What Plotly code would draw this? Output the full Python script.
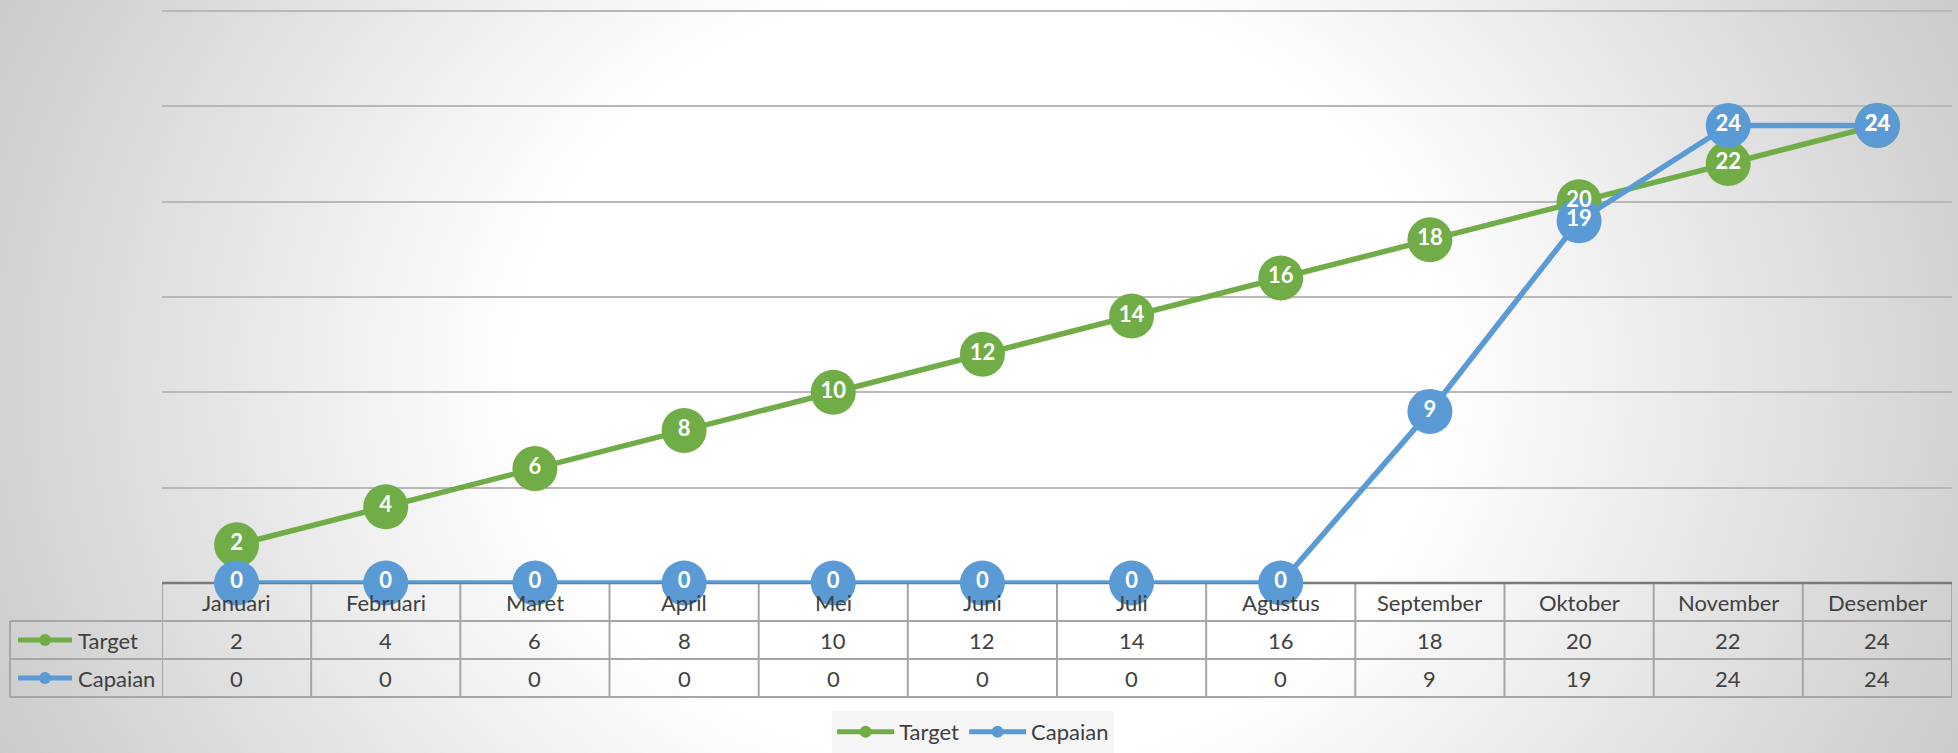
import base64
import plotly.graph_objects as go

months = ["Januari", "Februari", "Maret", "April", "Mei", "Juni", "Juli",
          "Agustus", "September", "Oktober", "November", "Desember"]
target = [2, 4, 6, 8, 10, 12, 14, 16, 18, 20, 22, 24]
capaian = [0, 0, 0, 0, 0, 0, 0, 0, 9, 19, 24, 24]
series_names = ["Target", "Capaian"]
series_colors = ["#70AD47", "#5B9BD5"]

W, H = 1958, 753
FONT = "Lato"
TXT = "#404040"
TBL = "#a6a6a6"
FS = 22

# layout geometry (pixels)
px_l, px_r = 162, 1952
py_axis, py_top = 583, 11
rows_y = [583, 621, 659, 697]
tbl_left = 10
y_max_grid = 30
y_range_top = 30.5
unit_px = (py_axis - py_top) / y_max_grid
py_domain_top = py_axis - y_range_top * unit_px

def fx(p):
    return p / W

def fy(p):
    return 1 - p / H

svg = f'''<svg xmlns="http://www.w3.org/2000/svg" width="{W}" height="{H}" viewBox="0 0 {W} {H}" preserveAspectRatio="none">
<defs><radialGradient id="g" cx="0.5" cy="0.5" r="0.56" gradientUnits="objectBoundingBox">
<stop offset="0" stop-color="#ffffff"/><stop offset="0.42" stop-color="#ffffff"/>
<stop offset="1" stop-color="#c9c9c9"/></radialGradient></defs>
<rect x="0" y="{-0.6 * H}" width="{W}" height="{2.2 * H}" fill="url(#g)"/></svg>'''
svg_uri = "data:image/svg+xml;base64," + base64.b64encode(svg.encode()).decode()

fig = go.Figure()
all_vals = [target, capaian]
for name, vals, col in zip(series_names, all_vals, series_colors):
    fig.add_trace(go.Scatter(
        x=months, y=vals, name=name, mode="lines+markers",
        line=dict(color=col, width=5.5),
        marker=dict(color=col, size=45),
        cliponaxis=False, hoverinfo="x+y+name",
    ))
# data labels drawn above all markers (as in the original)
for name, vals in zip(series_names, all_vals):
    fig.add_trace(go.Scatter(
        x=months, y=vals, mode="text", showlegend=False, hoverinfo="skip",
        text=[str(v) for v in vals], textposition="middle center",
        textfont=dict(family=FONT, size=FS, color="white", weight="bold"),
        cliponaxis=False,
    ))

shapes = []
annotations = []
# table horizontal lines
for yy in rows_y[1:]:
    shapes.append(dict(type="line", xref="paper", yref="paper",
                       x0=fx(tbl_left), x1=fx(px_r), y0=fy(yy), y1=fy(yy),
                       line=dict(color=TBL, width=2), layer="above"))
# vertical lines at category boundaries
for i in range(len(months) + 1):
    shapes.append(dict(type="line", xref="x", yref="paper",
                       x0=i - 0.5, x1=i - 0.5, y0=fy(rows_y[0]), y1=fy(rows_y[-1]),
                       line=dict(color=TBL, width=2), layer="below"))
# left outer border of label column
shapes.append(dict(type="line", xref="paper", yref="paper",
                   x0=fx(tbl_left), x1=fx(tbl_left), y0=fy(rows_y[1]), y1=fy(rows_y[-1]),
                   line=dict(color=TBL, width=2)))
# axis line (top of table)
shapes.append(dict(type="line", xref="paper", yref="paper",
                   x0=fx(px_l), x1=fx(px_r), y0=fy(py_axis), y1=fy(py_axis),
                   line=dict(color="#7a7a7a", width=2.5), layer="below"))

# header row
hy = fy((rows_y[0] + rows_y[1]) / 2)
for m in months:
    annotations.append(dict(x=m, y=hy, xref="x", yref="paper", text=m,
                            showarrow=False, font=dict(family=FONT, size=FS, color=TXT),
                            xanchor="center", yanchor="middle"))
# value rows + label column
for r, (name, vals, col) in enumerate(zip(series_names, all_vals, series_colors)):
    cy = fy((rows_y[r + 1] + rows_y[r + 2]) / 2)
    for m, v in zip(months, vals):
        annotations.append(dict(x=m, y=cy, xref="x", yref="paper", text=str(v),
                                showarrow=False, font=dict(family=FONT, size=FS, color=TXT),
                                xanchor="center", yanchor="middle"))
    annotations.append(dict(x=fx(76), y=cy, xref="paper", yref="paper", text=name,
                            showarrow=False, font=dict(family=FONT, size=FS, color=TXT),
                            xanchor="left", yanchor="middle"))
    shapes.append(dict(type="line", xref="paper", yref="paper",
                       x0=fx(18), x1=fx(72), y0=cy, y1=cy,
                       line=dict(color=col, width=5)))
    shapes.append(dict(type="circle", xref="paper", yref="paper",
                       x0=fx(39), x1=fx(51), y0=cy - 6 / H, y1=cy + 6 / H,
                       fillcolor=col, line=dict(color=col, width=0)))

fig.update_layout(
    width=W, height=H,
    margin=dict(l=0, r=0, t=0, b=0),
    paper_bgcolor="#e6e6e6",
    plot_bgcolor="rgba(0,0,0,0)",
    font=dict(family=FONT, color=TXT),
    images=[dict(source=svg_uri, xref="paper", yref="paper", x=0, y=1,
                 sizex=1, sizey=1, sizing="stretch", layer="below",
                 xanchor="left", yanchor="top")],
    xaxis=dict(domain=[fx(px_l), fx(px_r)], range=[-0.5, 11.5],
               showticklabels=False, showgrid=False, zeroline=False,
               showline=False, ticks="", fixedrange=True),
    yaxis=dict(domain=[fy(py_axis), fy(py_domain_top)], range=[0, y_range_top],
               tick0=0, dtick=5,
               showticklabels=False, showgrid=True, gridcolor="#b8b8b8",
               gridwidth=1.5, zeroline=False, showline=False, ticks="",
               fixedrange=True),
    showlegend=True,
    legend=dict(orientation="h", x=0.497, xanchor="center", y=fy(711),
                yanchor="top", bgcolor="rgba(245,245,245,0.85)",
                font=dict(family=FONT, size=FS, color=TXT),
                itemsizing="constant", itemwidth=57,
                tracegroupgap=0),
    shapes=shapes, annotations=annotations,
)

fig.write_html("out.html",
               config={"displayModeBar": False},
               post_script="document.body.style.margin='0px';"
                           "document.body.style.overflow='hidden';")
